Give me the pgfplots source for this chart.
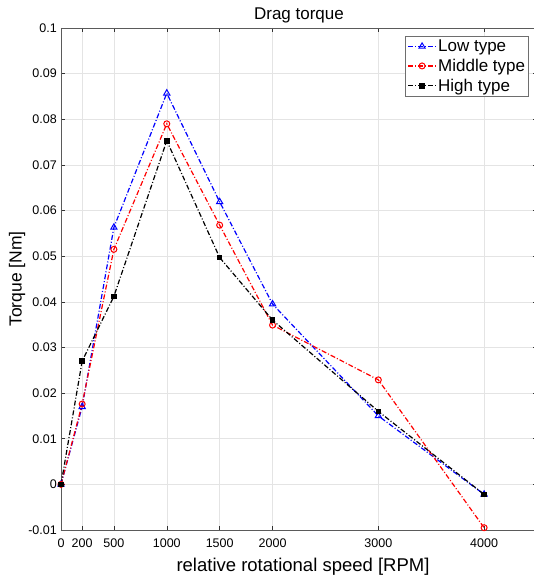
\documentclass[border=0pt]{standalone}
\usepackage{fontspec}
\setmainfont{Liberation Sans}
\usepackage{pgfplots}
\pgfplotsset{compat=1.18}
\definecolor{axgray}{RGB}{90,90,90}
\definecolor{gridgray}{RGB}{228,228,228}
\definecolor{legframe}{RGB}{110,110,110}

\begin{document}
\begin{tikzpicture}[font=\fontsize{12.5}{14}\selectfont]
\begin{axis}[
  scale only axis,
  width=476pt, height=502pt,
  xmin=0, xmax=4500,
  ymin=-0.01, ymax=0.1,
  xtick={0,200,500,1000,1500,2000,3000,4000},
  xticklabels={0,200,500,1000,1500,2000,3000,4000},
  ytick={-0.01,0,0.01,0.02,0.03,0.04,0.05,0.06,0.07,0.08,0.09,0.1},
  yticklabels={-0.01,0,0.01,0.02,0.03,0.04,0.05,0.06,0.07,0.08,0.09,0.1},
  xticklabel style={anchor=base, yshift=-17.5pt},
  yticklabel style={anchor=east, xshift=-4pt, inner sep=0pt},
  tick align=inside,
  major tick length=4pt,
  tick style={black!80, line width=0.5pt},
  axis line style={axgray, line width=0.7pt},
  grid=major,
  grid style={gridgray, line width=0.5pt},
  title={Drag torque},
  title style={font=\fontsize{17}{19}\selectfont, anchor=base, yshift=2pt},
  xlabel={relative rotational speed [RPM]},
  xlabel style={font=\fontsize{18.5}{21}\selectfont, at={(axis description cs:0.5,0)}, anchor=base, yshift=-41pt, xshift=4pt},
  ylabel={Torque [Nm]},
  ylabel style={font=\fontsize{17.5}{20}\selectfont, at={(axis description cs:-0.0924,0.5)}, anchor=center},
  legend style={at={(axis description cs:0.983,0.984)}, anchor=north east, draw=legframe, line width=0.6pt,
    font=\fontsize{17}{19}\selectfont, inner sep=2pt, row sep=3pt,
    nodes={inner sep=1.5pt}},
  legend cell align=left,
  legend image code/.code={\draw[mark repeat=2,mark phase=2,#1] plot coordinates {(0pt,0pt) (14pt,0pt) (28pt,0pt)};},
  mydash/.style={dash pattern=on 5pt off 2pt on 1pt off 2pt},
]
\addplot[blue, mydash, line width=1.2pt, mark=triangle, mark size=3.6pt, mark options={solid, line width=1pt}]
  coordinates {(0,0) (200,0.017) (500,0.0563) (1000,0.0857) (1500,0.0619) (2000,0.0395) (3000,0.015) (4000,-0.0022)};
\addplot[red, mydash, line width=1.2pt, mark=o, mark size=3pt, mark options={solid, line width=1pt}]
  coordinates {(0,0) (200,0.0176) (500,0.0515) (1000,0.079) (1500,0.0568) (2000,0.0349) (3000,0.0229) (4000,-0.0095)};
\addplot[black, mydash, line width=1.2pt, mark=square*, mark size=2.2pt, mark options={solid}]
  coordinates {(0,0) (200,0.027) (500,0.0412) (1000,0.0753) (1500,0.0497) (2000,0.036) (3000,0.016) (4000,-0.0022)};
\legend{Low type, Middle type, High type}
\end{axis}
\pgfresetboundingbox
\useasboundingbox (-61pt,-46pt) rectangle (473pt,530pt);
\end{tikzpicture}
\end{document}
